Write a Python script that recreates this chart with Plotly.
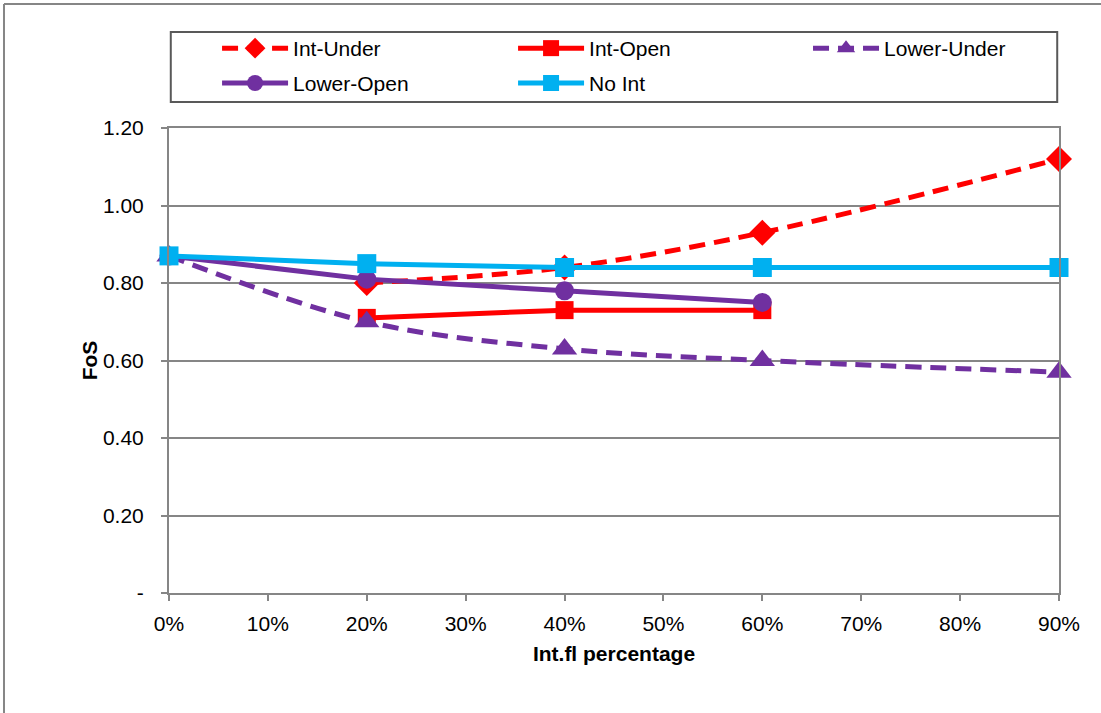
import plotly.graph_objects as go

# Int.fl percentage (x) and factor of safety (y) for each configuration
x_all = [0.0, 0.2, 0.4, 0.6, 0.9]
x_20_90 = [0.2, 0.4, 0.6, 0.9]
x_20_60 = [0.2, 0.4, 0.6]
x_0_60 = [0.0, 0.2, 0.4, 0.6]

int_under = [0.80, 0.84, 0.93, 1.12]
int_open = [0.71, 0.73, 0.73]
lower_under = [0.87, 0.70, 0.63, 0.60, 0.57]
lower_open = [0.87, 0.81, 0.78, 0.75]
no_int = [0.87, 0.85, 0.84, 0.84, 0.84]

y_tickvals = [0.0, 0.2, 0.4, 0.6, 0.8, 1.0, 1.2]
y_ticktext = ["-", "0.20", "0.40", "0.60", "0.80", "1.00", "1.20"]
x_tickvals = [0.0, 0.1, 0.2, 0.3, 0.4, 0.5, 0.6, 0.7, 0.8, 0.9]

RED = "#FF0000"
PURPLE = "#7030A0"
BLUE = "#00B0F0"
DASH = "16px,9px"
FONT = "Liberation Sans, Arial, sans-serif"
FS = 21

fig = go.Figure()

fig.add_trace(go.Scatter(
    x=x_20_90, y=int_under, name="Int-Under", legend="legend", cliponaxis=False,
    mode="lines+markers", line=dict(color=RED, width=5, dash=DASH, shape="spline"),
    marker=dict(symbol="diamond", size=20, color=RED),
))
fig.add_trace(go.Scatter(
    x=x_20_60, y=int_open, name="Int-Open", legend="legend", cliponaxis=False,
    mode="lines+markers", line=dict(color=RED, width=5),
    marker=dict(symbol="square", size=18, color=RED),
))
fig.add_trace(go.Scatter(
    x=x_all, y=lower_under, name="Lower-Under", legend="legend3", cliponaxis=False,
    mode="lines+markers", line=dict(color=PURPLE, width=5, dash=DASH, shape="spline"),
    marker=dict(symbol="triangle-up", size=22, color=PURPLE),
))
fig.add_trace(go.Scatter(
    x=x_0_60, y=lower_open, name="Lower-Open", legend="legend2", cliponaxis=False,
    mode="lines+markers", line=dict(color=PURPLE, width=5),
    marker=dict(symbol="circle", size=19, color=PURPLE),
))
fig.add_trace(go.Scatter(
    x=x_all, y=no_int, name="No Int", legend="legend2", cliponaxis=False,
    mode="lines+markers", line=dict(color=BLUE, width=5),
    marker=dict(symbol="square", size=19, color=BLUE),
))

legend_common = dict(
    orientation="h", xanchor="left", yanchor="middle",
    entrywidth=215, entrywidthmode="pixels", itemwidth=66,
    font=dict(family=FONT, size=FS, color="#000000"),
    bgcolor="rgba(0,0,0,0)", borderwidth=0, tracegroupgap=0,
)
legend_last_col = dict(legend_common, entrywidth=150)

fig.update_layout(
    width=1101, height=713,
    margin=dict(l=169, r=42, t=128, b=120, autoexpand=False),
    paper_bgcolor="white", plot_bgcolor="white",
    font=dict(family=FONT, size=FS, color="#000000"),
    showlegend=True,
    # legend rows: first row split across two legends so it keeps three columns
    legend=dict(x=0.054, y=1.171, **legend_common),
    legend3=dict(x=0.718, y=1.171, **legend_last_col),
    legend2=dict(x=0.054, y=1.096, **legend_common),
    xaxis=dict(
        range=[0, 0.9], tickvals=x_tickvals, tickformat=".0%",
        showgrid=False, zeroline=False,
        showline=True, linecolor="#868686", linewidth=2, mirror=True,
        ticks="outside", ticklen=6, tickcolor="#868686", tickwidth=1.5,
        ticklabelstandoff=5,
        tickfont=dict(family=FONT, size=FS),
        title=dict(text="<b>Int.fl percentage</b>", font=dict(family=FONT, size=FS), standoff=12),
    ),
    yaxis=dict(
        range=[0, 1.2], tickvals=y_tickvals, ticktext=y_ticktext,
        showgrid=True, gridcolor="#868686", gridwidth=1.5, zeroline=False,
        showline=True, linecolor="#868686", linewidth=2, mirror=True,
        ticks="outside", ticklen=6, tickcolor="#868686", tickwidth=1.5,
        ticklabelstandoff=13,
        tickfont=dict(family=FONT, size=FS),
        title=dict(text="<b>FoS</b>", font=dict(family=FONT, size=FS), standoff=0),
    ),
    shapes=[
        # legend frame
        dict(type="rect", xref="paper", yref="paper",
             x0=0.002, x1=0.998, y0=1.0559, y1=1.2065,
             line=dict(color="#595959", width=2), fillcolor="rgba(0,0,0,0)", layer="above"),
        # outer chart frame (left and top edges)
        dict(type="line", xref="paper", yref="paper",
             x0=-0.1854, x1=-0.1854, y0=-0.26, y1=1.2667,
             line=dict(color="#868686", width=2)),
        dict(type="line", xref="paper", yref="paper",
             x0=-0.1854, x1=1.05, y0=1.2667, y1=1.2667,
             line=dict(color="#868686", width=2)),
    ],
)

fig.write_html("out.html")
